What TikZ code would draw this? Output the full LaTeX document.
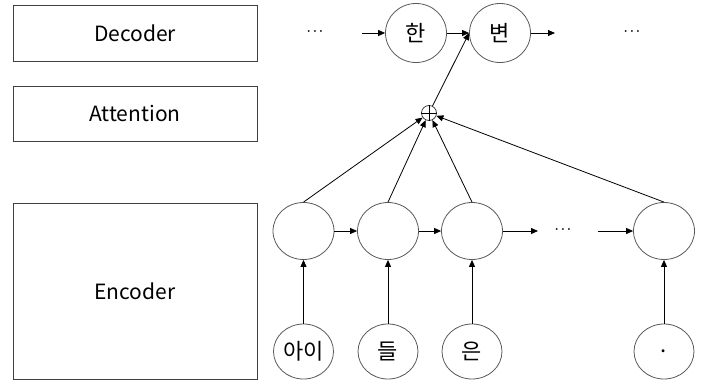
\documentclass[tikz,border=0pt]{standalone}
\usepackage{fontspec}
\setmainfont{Noto Sans CJK KR}
\usetikzlibrary{arrows.meta,shapes.geometric}

\begin{document}
\begin{tikzpicture}[x=1pt,y=-1pt,
  box/.style={draw=black!75, minimum width=244pt},
  cell/.style={draw=black!65, ellipse, minimum width=61pt, minimum height=57pt, inner sep=0pt, font=\fontsize{22}{26}\selectfont},
  dots/.style={font=\fontsize{13}{15}\selectfont\boldmath}]
\begin{scope}[font=\fontsize{21}{25}\selectfont, line width=0.8pt, >={Triangle[length=7pt,width=6pt]}]

\useasboundingbox (0,0) rectangle (704,383);

\node[box, minimum height=56pt] (dec) at (135,33) {Decoder};
\node[box, minimum height=55pt] (att) at (135,113.5) {Attention};
\node[box, minimum height=176pt] (enc) at (135,291) {Encoder};

% decoder
\node[dots] (ddl) at (315,32) {$\cdots$};
\node[cell, minimum height=59pt] (d1) at (416,33) {한};
\node[cell, minimum height=59pt] (d2) at (500,33) {변};
\node[dots] (ddr) at (632,32) {$\cdots$};
\coordinate (din) at (362,33);
\coordinate (dout) at (555,33);
\draw[->] (din) -- (d1);
\draw[->] (d1) -- (d2);
\draw[->] (d2) -- (dout);

% attention
\node[draw=black!75, circle, minimum size=15pt, inner sep=0pt] (sum) at (429,113) {};
\draw[line width=0.6pt] (sum.north) -- (sum.south) (sum.west) -- (sum.east);
\draw[->] (sum) -- (d2.west);

% encoder
\node[cell] (h1) at (303.5,231) {};
\node[cell] (h2) at (388,231) {};
\node[cell] (h3) at (472,231) {};
\node[dots] (hd) at (563,230) {$\cdots$};
\node[cell] (h4) at (664,231) {};
\coordinate (hout) at (538,231);
\coordinate (hin) at (598,231);
\draw[->] (h1) -- (h2);
\draw[->] (h2) -- (h3);
\draw[->] (h3) -- (hout);
\draw[->] (hin) -- (h4);

\node[cell, minimum width=60pt, minimum height=55pt] (x1) at (303.5,351.5) {아이};
\node[cell, minimum width=60pt, minimum height=55pt] (x2) at (388,351.5) {들};
\node[cell, minimum width=60pt, minimum height=55pt] (x3) at (472,351.5) {은};
\node[cell, minimum width=60pt, minimum height=55pt] (x4) at (664,351.5) {.};
\draw[->] (x1) -- (h1);
\draw[->] (x2) -- (h2);
\draw[->] (x3) -- (h3);
\draw[->] (x4) -- (h4);

\draw[->] (h1.north) -- (sum);
\draw[->] (h2.north) -- (sum);
\draw[->] (h3.north) -- (sum);
\draw[->] (h4.north) -- (sum);

\end{scope}
\end{tikzpicture}
\end{document}
